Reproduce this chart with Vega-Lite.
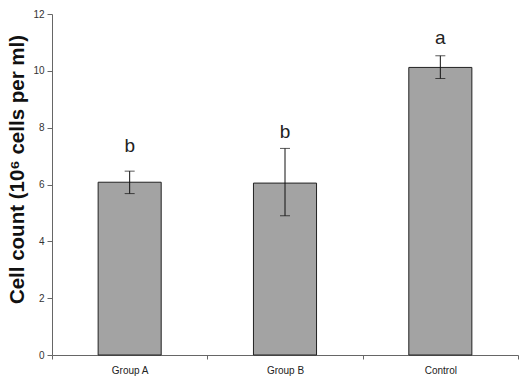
{
  "$schema": "https://vega.github.io/schema/vega-lite/v6.json",
  "width": 466,
  "height": 341,
  "autosize": "none",
  "padding": {"left": 52, "top": 14, "right": 9, "bottom": 26},
  "background": "white",
  "config": {"view": {"stroke": null}, "font": "Liberation Sans"},
  "data": {"values": [
    {"group": "Group A", "mean": 6.08, "lo": 5.68, "hi": 6.47, "letter": "b", "ly": 7.35},
    {"group": "Group B", "mean": 6.05, "lo": 4.9, "hi": 7.27, "letter": "b", "ly": 7.86},
    {"group": "Control", "mean": 10.12, "lo": 9.73, "hi": 10.53, "letter": "a", "ly": 11.15}
  ]},
  "encoding": {
    "x": {"field": "group", "type": "nominal", "sort": null,
      "scale": {"paddingInner": 0, "paddingOuter": 0},
      "axis": {"title": null, "labelAngle": 0, "labelFontSize": 10, "labelColor": "#222", "labelPadding": 6,
        "tickBand": "extent", "tickSize": 4, "tickColor": "#666", "domainColor": "#666"}}
  },
  "layer": [
    {"mark": {"type": "bar", "width": {"band": 0.406}, "stroke": "#222", "strokeWidth": 1, "fill": "#a3a3a3"},
      "encoding": {"y": {"field": "mean", "type": "quantitative",
        "scale": {"domain": [0, 12]},
        "axis": {"values": [0, 2, 4, 6, 8, 10, 12], "grid": false, "title": "Cell count (10⁶ cells per ml)",
          "titleFontSize": 20.5, "titleFontWeight": "bold", "titleColor": "#111",
          "titleX": -35, "titleY": 155, "titleBaseline": "middle", "titleAngle": -90,
          "labelFontSize": 10, "labelColor": "#333", "tickSize": 5, "tickColor": "#666", "domainColor": "#666", "labelPadding": 3}}}},
    {"mark": {"type": "rule", "color": "#111", "strokeWidth": 1},
      "encoding": {"y": {"field": "lo", "type": "quantitative"}, "y2": {"field": "hi"}}},
    {"mark": {"type": "tick", "color": "#111", "thickness": 1, "size": 10, "orient": "horizontal"},
      "encoding": {"y": {"field": "lo", "type": "quantitative"}}},
    {"mark": {"type": "tick", "color": "#111", "thickness": 1, "size": 10, "orient": "horizontal"},
      "encoding": {"y": {"field": "hi", "type": "quantitative"}}},
    {"mark": {"type": "text", "fontSize": 19, "color": "#222", "baseline": "middle"},
      "encoding": {"y": {"field": "ly", "type": "quantitative"}, "text": {"field": "letter"}}}
  ]
}
